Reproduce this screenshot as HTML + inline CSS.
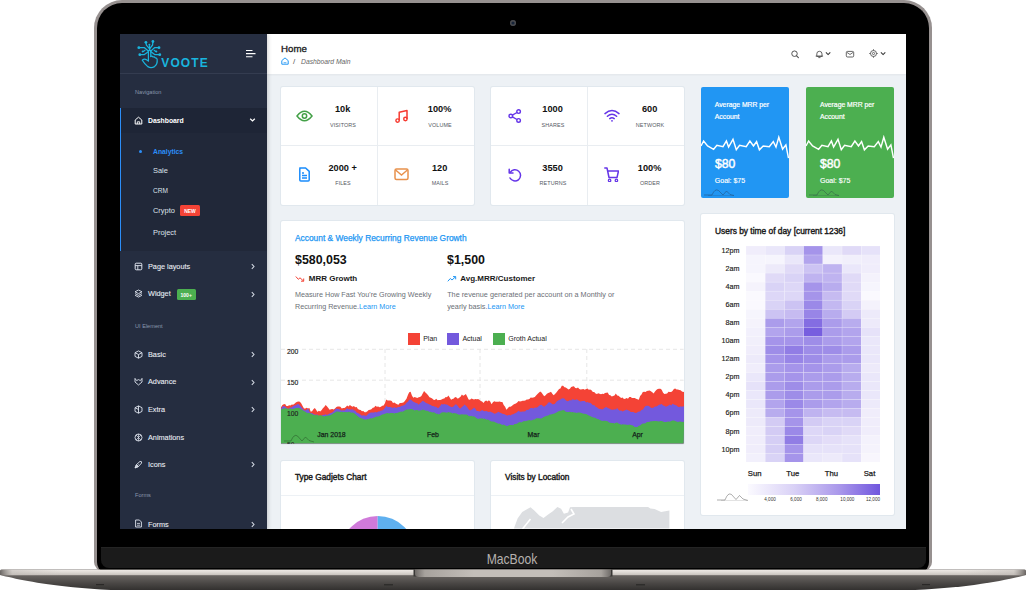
<!DOCTYPE html>
<html><head><meta charset="utf-8"><title>Voote Dashboard</title>
<style>
html,body{margin:0;padding:0;}
body{width:1026px;height:590px;background:#fff;position:relative;overflow:hidden;font-family:"Liberation Sans",sans-serif;}
.b{position:absolute;display:block;}
.t{position:absolute;white-space:nowrap;line-height:1.2;}
#lid{position:absolute;left:94px;top:0;width:838px;height:571px;box-sizing:border-box;background:#000;border:3px solid #979190;border-bottom:none;border-radius:28px 28px 9px 9px;}
#chin{position:absolute;left:100.6px;top:547px;width:825.2px;height:20.9px;background:#1b1b1b;border-radius:0 0 8px 8px;box-shadow:inset 0 1px 0 #242424;}
#cam{position:absolute;left:509.9px;top:20.4px;width:6px;height:6px;border-radius:50%;background:#16243a;box-shadow:inset 0 0 0 1.4px #4b4b4d;}
#screen{position:absolute;left:120px;top:34px;width:786px;height:495.3px;overflow:hidden;background:#edf1f5;}
#mb{position:absolute;left:-1.1px;width:1026px;top:550.8px;text-align:center;font-size:13.9px;color:#b5b1ae;line-height:16px;transform:scaleX(.876);transform-origin:513px 50%;}
</style></head><body>
<div id="lid"></div>
<div id="chin"></div>
<div id="cam"></div>
<div id="mb">MacBook</div>
<svg class="b" style="left:0;top:566px" width="1026" height="24" viewBox="0 0 1026 24">
<defs>
<linearGradient id="bg" x1="0" y1="0" x2="0" y2="1"><stop offset="0" stop-color="#6b6764"/><stop offset=".3" stop-color="#686461"/><stop offset=".65" stop-color="#4a4745"/><stop offset="1" stop-color="#2f2d2c"/></linearGradient>
<linearGradient id="lg" x1="0" y1="0" x2="0" y2="1"><stop offset="0" stop-color="#efebe7"/><stop offset=".55" stop-color="#dbd6d1"/><stop offset="1" stop-color="#c6c0bb"/></linearGradient>
<linearGradient id="tg" x1="0" y1="0" x2="1" y2="0"><stop offset="0" stop-color="#55514e" stop-opacity=".85"/><stop offset=".012" stop-color="#bdb8b3" stop-opacity=".5"/><stop offset=".06" stop-color="#bdb8b3" stop-opacity="0"/><stop offset=".94" stop-color="#bdb8b3" stop-opacity="0"/><stop offset=".988" stop-color="#bdb8b3" stop-opacity=".5"/><stop offset="1" stop-color="#55514e" stop-opacity=".85"/></linearGradient>
<linearGradient id="ng" x1="0" y1="0" x2="1" y2="0"><stop offset="0" stop-color="#6f6b68"/><stop offset=".05" stop-color="#a7a29d"/><stop offset=".3" stop-color="#c3beb9"/><stop offset=".7" stop-color="#c3beb9"/><stop offset=".95" stop-color="#a7a29d"/><stop offset="1" stop-color="#6f6b68"/></linearGradient>
<clipPath id="bc"><path d="M1.500 3.500 H1024.500 Q1026 3.500 1026 5 V9 C1012 12.500 990 17.500 953 21.300 C930 23.600 900 25 876 25 H150 C126 25 96 23.600 73 21.300 C36 17.500 14 12.500 0 9 V5 Q0 3.500 1.500 3.500 Z"/></clipPath>
</defs>
<g clip-path="url(#bc)">
<rect x="0" y="3" width="1026" height="22" fill="url(#bg)"/>
<rect x="0" y="3.600" width="1026" height="5.600" fill="url(#lg)"/>
<rect x="0" y="3.600" width="1026" height="5.600" fill="url(#tg)"/>
<rect x="413.500" y="3" width="199" height="7.500" fill="#3a3836"/>
<path d="M415 3 H611 V8 Q611 11 607 11 H419 Q415 11 415 8 Z" fill="url(#ng)"/>
<rect x="96" y="18" width="8" height="1.200" fill="#2a2827"/><rect x="922" y="18" width="8" height="1.200" fill="#2a2827"/>
<rect x="384" y="18.200" width="9" height="1.200" fill="#2a2827"/><rect x="636" y="18.200" width="9" height="1.200" fill="#2a2827"/>
</g>
</svg>
<div id="screen">
<div class="b" style="left:0.0px;top:0.0px;width:786.0px;height:496.0px;background:#edf1f5;"></div>
<div class="b" style="left:147.0px;top:0.0px;width:639.0px;height:39.5px;background:#fff;box-shadow:0 1px 2px rgba(0,0,0,.05);"></div>
<div class="t" style="left:161.0px;top:14.5px;font-size:9.7px;color:#1a1a1a;font-weight:400;transform:translate(0,-50%);transform-origin:left center;-webkit-text-stroke:0.32px #1a1a1a;">Home</div>
<svg class="b" style="left:161.0px;top:23.0px;" width="8" height="8" viewBox="0 0 8 8"><path d="M0.8 3.6 L4 0.9 L7.2 3.6 V7.2 H0.8 Z" fill="none" stroke="#2196f3" stroke-width="1" stroke-linejoin="round"/><path d="M2.6 5.4 Q4 6.4 5.4 5.4" fill="none" stroke="#2196f3" stroke-width=".8"/></svg>
<div class="t" style="left:173.0px;top:27.6px;font-size:8px;color:#555;font-weight:400;transform:translate(0,-50%);transform-origin:left center;">/</div>
<div class="t" style="left:180.5px;top:27.9px;font-size:7px;color:#666;font-weight:400;transform:translate(0,-50%) scaleX(0.965);transform-origin:left center;font-style:italic;">Dashboard Main</div>
<svg class="b" style="left:670.0px;top:14.5px;" width="11" height="11" viewBox="0 0 11 11"><circle cx="4.5" cy="4.7" r="2.75" fill="none" stroke="#4a4a4a" stroke-width=".95"/><path d="M6.600 6.800 L8.400 8.600" stroke="#4a4a4a" stroke-width="1.05" stroke-linecap="round"/></svg>
<svg class="b" style="left:693.5px;top:14.5px;" width="11" height="11" viewBox="0 0 11 11"><path d="M2.800 7 V4.900 A2.600 2.600 0 0 1 8 4.900 V7 Z M2.100 7.100 H8.700 M4.700 8.600 H6.100" fill="none" stroke="#4a4a4a" stroke-width=".85" stroke-linecap="round" stroke-linejoin="round"/></svg>
<svg class="b" style="left:705.0px;top:17.0px;" width="7" height="6" viewBox="0 0 7 6"><path d="M.9 1.300 L3.100 3.500 L5.300 1.300" fill="none" stroke="#333" stroke-width="1.05"/></svg>
<svg class="b" style="left:725.0px;top:15.5px;" width="10" height="9" viewBox="0 0 10 9"><rect x="1.300" y="1.400" width="7.400" height="5.600" rx="1.200" fill="none" stroke="#4a4a4a" stroke-width=".85"/><path d="M1.800 2.300 L5 4.500 L8.200 2.300" fill="none" stroke="#4a4a4a" stroke-width=".8"/></svg>
<svg class="b" style="left:747.5px;top:14.2px;" width="11" height="11" viewBox="0 0 11 11"><circle cx="5.500" cy="5.500" r="3" fill="none" stroke="#4a4a4a" stroke-width=".85"/><circle cx="5.500" cy="5.500" r="1.100" fill="none" stroke="#4a4a4a" stroke-width=".8"/><path d="M5.500 1.300V2.400 M5.500 8.600V9.700 M1.300 5.500H2.400 M8.600 5.500H9.700" stroke="#4a4a4a" stroke-width=".9"/></svg>
<svg class="b" style="left:759.5px;top:17.0px;" width="7" height="6" viewBox="0 0 7 6"><path d="M.9 1.300 L3.100 3.500 L5.300 1.300" fill="none" stroke="#333" stroke-width="1.050"/></svg>
<div class="b" style="left:0.0px;top:0.0px;width:147.0px;height:496.0px;background:#252d40;box-shadow:1px 0 4px rgba(0,0,0,.18);"></div>
<div class="b" style="left:0.0px;top:0.0px;width:147.0px;height:39.0px;background:#262e41;border-bottom:1px solid #343c50;"></div>
<div class="b" style="left:0.0px;top:74.0px;width:147.0px;height:142.5px;background:#212839;border-left:1px solid #2c8ef8;box-sizing:border-box;"></div>
<div class="b" style="left:0.0px;top:74.0px;width:147.0px;height:24.5px;background:#1e2536;border-left:1px solid #2c8ef8;box-sizing:border-box;"></div>
<svg class="b" style="left:14.0px;top:2.0px;" width="30" height="34" viewBox="0 0 30 34"><g fill="none" stroke="#19b5de" stroke-width="1.25" stroke-linecap="round" stroke-linejoin="round">
<path d="M15.600 14 V12.800 L12.400 9.200 L12 7"/>
<path d="M15.600 12.800 L18.600 9 L18.800 6.200"/>
<path d="M15.400 10 L15.600 12.800"/>
<path d="M5.500 11.700 H10.500 L14.600 15.300"/>
<path d="M24.300 11.700 H20.500 L16.700 15.100"/>
<path d="M6.500 18.700 H10 L14.300 15.800"/>
<path d="M25 18.700 H21 L17 15.800"/>
<path d="M9.300 15.400 L11 14.300 M21.700 15.400 L20.200 14.300"/>
<path d="M14.400 24.800 V15.200 Q14.400 14 15.600 14 Q16.800 14 16.800 15.200 V20.600"/>
<path d="M16.800 20.400 Q18.200 19.800 19 21 Q20.500 20.600 21.200 21.800 Q22.700 21.600 23.100 23.200 Q23.800 28.200 20.500 30.600 Q17 32.600 13.800 30.600 Q10.200 27.500 8.300 24.300 Q10.200 22.300 12.500 23.800 L14.400 25"/>
</g>
<g fill="#19b5de"><circle cx="11.900" cy="6.300" r="1.4"/><circle cx="18.900" cy="5.500" r="1.4"/><circle cx="15.400" cy="8.700" r="1"/><circle cx="4.800" cy="11.700" r="1.4"/><circle cx="25" cy="11.700" r="1.4"/><circle cx="5.800" cy="18.700" r="1.4"/><circle cx="25.800" cy="18.700" r="1.4"/><circle cx="8.700" cy="15.500" r="1"/><circle cx="22.300" cy="15.500" r="1"/></g></svg>
<div class="t" style="left:41.3px;top:28.7px;font-size:12px;color:#19b5de;font-weight:700;transform:translate(0,-50%);transform-origin:left center;letter-spacing:1.1px;">VOOTE</div>
<svg class="b" style="left:125.0px;top:15.0px;" width="12" height="10" viewBox="0 0 12 10"><path d="M1 1.5 H7.5 M1 4.6 H10.5 M1 7.7 H7.5" stroke="#fff" stroke-width="1.1" fill="none"/></svg>
<div class="t" style="left:15.0px;top:58.0px;font-size:5.6px;color:#8a97ad;font-weight:400;transform:translate(0,-50%);transform-origin:left center;">Navigation</div>
<div class="t" style="left:15.0px;top:292.4px;font-size:5.6px;color:#8a97ad;font-weight:400;transform:translate(0,-50%);transform-origin:left center;">UI Element</div>
<div class="t" style="left:15.0px;top:461.0px;font-size:5.6px;color:#8a97ad;font-weight:400;transform:translate(0,-50%);transform-origin:left center;">Forms</div>
<svg class="b" style="left:13.7px;top:81.5px;" width="9" height="9" viewBox="0 0 9 9"><path d="M1.2 4 L4.5 1.2 L7.8 4 V8 H1.2 Z" fill="none" stroke="#fff" stroke-width="1" stroke-linejoin="round"/><path d="M3.3 8 V5.8 H5.7 V8" fill="none" stroke="#fff" stroke-width=".9"/></svg>
<div class="t" style="left:28.0px;top:86.7px;font-size:7.6px;color:#fff;font-weight:700;transform:translate(0,-50%) scaleX(0.9);transform-origin:left center;">Dashboard</div>
<svg class="b" style="left:128.5px;top:83.3px;" width="7" height="6" viewBox="0 0 7 6"><path d="M1.2 1.8 L3.5 4 L5.8 1.8" fill="none" stroke="#fff" stroke-width="1.25"/></svg>
<svg class="b" style="left:13.7px;top:227.9px;" width="9" height="9" viewBox="0 0 9 9"><rect x="1.2" y="1.2" width="6.6" height="6.6" rx="1" fill="none" stroke="#dfe4ee" stroke-width="1"/><path d="M1.2 3.6 H7.8 M3.8 3.6 V7.8" stroke="#dfe4ee" stroke-width=".9"/></svg>
<div class="t" style="left:28.0px;top:233.1px;font-size:7.6px;color:#e8ecf3;font-weight:400;transform:translate(0,-50%) scaleX(0.96);transform-origin:left center;-webkit-text-stroke:0.1px #e8ecf3;">Page layouts</div>
<svg class="b" style="left:129.5px;top:229.2px;" width="6" height="7" viewBox="0 0 6 7"><path d="M1.8 1.2 L4 3.5 L1.8 5.8" fill="none" stroke="#d5dbe5" stroke-width="1.05"/></svg>
<svg class="b" style="left:13.7px;top:255.2px;" width="9" height="9" viewBox="0 0 9 9"><path d="M4.5 1 L8 2.8 L4.5 4.6 L1 2.8 Z M1 4.6 L4.5 6.4 L8 4.6 M1 6.3 L4.5 8.1 L8 6.3" fill="none" stroke="#dfe4ee" stroke-width=".9" stroke-linejoin="round"/></svg>
<div class="t" style="left:28.0px;top:260.4px;font-size:7.6px;color:#e8ecf3;font-weight:400;transform:translate(0,-50%) scaleX(0.96);transform-origin:left center;-webkit-text-stroke:0.1px #e8ecf3;">Widget</div>
<svg class="b" style="left:129.5px;top:256.5px;" width="6" height="7" viewBox="0 0 6 7"><path d="M1.8 1.2 L4 3.5 L1.8 5.8" fill="none" stroke="#d5dbe5" stroke-width="1.05"/></svg>
<svg class="b" style="left:13.7px;top:315.8px;" width="9" height="9" viewBox="0 0 9 9"><path d="M4.5 .9 L8 2.7 V6.4 L4.5 8.2 L1 6.4 V2.7 Z M1 2.7 L4.5 4.5 L8 2.7 M4.5 4.5 V8.2" fill="none" stroke="#dfe4ee" stroke-width=".9" stroke-linejoin="round"/></svg>
<div class="t" style="left:28.0px;top:321.0px;font-size:7.6px;color:#e8ecf3;font-weight:400;transform:translate(0,-50%) scaleX(0.96);transform-origin:left center;-webkit-text-stroke:0.1px #e8ecf3;">Basic</div>
<svg class="b" style="left:129.5px;top:317.1px;" width="6" height="7" viewBox="0 0 6 7"><path d="M1.8 1.2 L4 3.5 L1.8 5.8" fill="none" stroke="#d5dbe5" stroke-width="1.05"/></svg>
<svg class="b" style="left:13.7px;top:343.2px;" width="9" height="9" viewBox="0 0 9 9"><path d="M1 1.4 L2.6 3.6 L4.5 2.6 L6.4 3.6 L8 1.4 V5 L4.5 8 L1 5 Z" fill="none" stroke="#dfe4ee" stroke-width=".9" stroke-linejoin="round"/></svg>
<div class="t" style="left:28.0px;top:348.4px;font-size:7.6px;color:#e8ecf3;font-weight:400;transform:translate(0,-50%) scaleX(0.96);transform-origin:left center;-webkit-text-stroke:0.1px #e8ecf3;">Advance</div>
<svg class="b" style="left:129.5px;top:344.5px;" width="6" height="7" viewBox="0 0 6 7"><path d="M1.8 1.2 L4 3.5 L1.8 5.8" fill="none" stroke="#d5dbe5" stroke-width="1.05"/></svg>
<svg class="b" style="left:13.7px;top:370.8px;" width="9" height="9" viewBox="0 0 9 9"><path d="M4.5 .9 L8 2.7 V6.4 L4.5 8.2 L1 6.4 V2.7 Z M4.5 .9 V8.2 M1 2.7 L4.5 4.5" fill="none" stroke="#dfe4ee" stroke-width=".9" stroke-linejoin="round"/></svg>
<div class="t" style="left:28.0px;top:376.0px;font-size:7.6px;color:#e8ecf3;font-weight:400;transform:translate(0,-50%) scaleX(0.96);transform-origin:left center;-webkit-text-stroke:0.1px #e8ecf3;">Extra</div>
<svg class="b" style="left:129.5px;top:372.1px;" width="6" height="7" viewBox="0 0 6 7"><path d="M1.8 1.2 L4 3.5 L1.8 5.8" fill="none" stroke="#d5dbe5" stroke-width="1.05"/></svg>
<svg class="b" style="left:13.7px;top:398.8px;" width="9" height="9" viewBox="0 0 9 9"><circle cx="4.5" cy="4.5" r="3.5" fill="none" stroke="#dfe4ee" stroke-width=".9"/><path d="M2 2 L7 7 M7 2 L2 7 M4.5 1 V8" stroke="#dfe4ee" stroke-width=".7"/></svg>
<div class="t" style="left:28.0px;top:404.0px;font-size:7.6px;color:#e8ecf3;font-weight:400;transform:translate(0,-50%) scaleX(0.96);transform-origin:left center;-webkit-text-stroke:0.1px #e8ecf3;">Animations</div>
<svg class="b" style="left:13.7px;top:425.9px;" width="9" height="9" viewBox="0 0 9 9"><path d="M1 8 L2 5 L6 1.4 Q8 1 7.6 3 L4 7 L1 8 M2 5 L4 7 M1 8 L4.5 4.5" fill="none" stroke="#dfe4ee" stroke-width=".9" stroke-linejoin="round"/></svg>
<div class="t" style="left:28.0px;top:431.1px;font-size:7.6px;color:#e8ecf3;font-weight:400;transform:translate(0,-50%) scaleX(0.96);transform-origin:left center;-webkit-text-stroke:0.1px #e8ecf3;">Icons</div>
<svg class="b" style="left:129.5px;top:427.2px;" width="6" height="7" viewBox="0 0 6 7"><path d="M1.8 1.2 L4 3.5 L1.8 5.8" fill="none" stroke="#d5dbe5" stroke-width="1.05"/></svg>
<svg class="b" style="left:13.7px;top:485.3px;" width="9" height="9" viewBox="0 0 9 9"><path d="M1.6 1 H5.4 L7.4 3 V8 H1.6 Z" fill="none" stroke="#dfe4ee" stroke-width=".9" stroke-linejoin="round"/><path d="M3 4.4 H6 M3 6.2 H6" stroke="#dfe4ee" stroke-width=".8"/></svg>
<div class="t" style="left:28.0px;top:490.5px;font-size:7.6px;color:#e8ecf3;font-weight:400;transform:translate(0,-50%) scaleX(0.96);transform-origin:left center;-webkit-text-stroke:0.1px #e8ecf3;">Forms</div>
<svg class="b" style="left:129.5px;top:486.6px;" width="6" height="7" viewBox="0 0 6 7"><path d="M1.8 1.2 L4 3.5 L1.8 5.8" fill="none" stroke="#d5dbe5" stroke-width="1.05"/></svg>
<div class="b" style="left:56.5px;top:255.0px;width:19.5px;height:11.0px;background:#4caf50;border-radius:1.5px;"></div>
<div class="t" style="left:66.2px;top:260.6px;font-size:5px;color:#fff;font-weight:700;transform:translate(-50%,-50%);transform-origin:center center;">100+</div>
<div class="b" style="left:60.0px;top:171.0px;width:20.0px;height:10.6px;background:#f44336;border-radius:1.5px;"></div>
<div class="t" style="left:70.0px;top:176.5px;font-size:5px;color:#fff;font-weight:700;transform:translate(-50%,-50%);transform-origin:center center;">NEW</div>
<div class="b" style="left:18.5px;top:116.0px;width:3.0px;height:3.0px;background:#2c8ef8;border-radius:50%;"></div>
<div class="t" style="left:32.5px;top:117.5px;font-size:7.6px;color:#2c8ef8;font-weight:700;transform:translate(0,-50%) scaleX(0.89);transform-origin:left center;">Analytics</div>
<div class="t" style="left:32.5px;top:137.4px;font-size:7.6px;color:#dde2ea;font-weight:400;transform:translate(0,-50%) scaleX(0.98);transform-origin:left center;">Sale</div>
<div class="t" style="left:32.5px;top:156.8px;font-size:7.6px;color:#dde2ea;font-weight:400;transform:translate(0,-50%) scaleX(0.86);transform-origin:left center;">CRM</div>
<div class="t" style="left:32.5px;top:176.9px;font-size:7.6px;color:#dde2ea;font-weight:400;transform:translate(0,-50%) scaleX(0.98);transform-origin:left center;">Crypto</div>
<div class="t" style="left:32.5px;top:199.0px;font-size:7.6px;color:#dde2ea;font-weight:400;transform:translate(0,-50%) scaleX(0.98);transform-origin:left center;">Project</div>
<div class="b" style="left:161.0px;top:52.8px;width:193.4px;height:118.2px;background:#fff;border-radius:2px;box-shadow:0 0 0 1px rgba(215,224,232,.55);"></div>
<div class="b" style="left:257.2px;top:52.8px;width:0.8px;height:118.2px;background:#e9edf1;"></div>
<div class="b" style="left:161.0px;top:111.2px;width:193.4px;height:0.8px;background:#e9edf1;"></div>
<svg class="b" style="left:176.3px;top:75.7px;" width="17" height="12" viewBox="0 0 17 12"><path d="M1 6 Q8.5 -3.5 16 6 Q8.5 15.500 1 6 Z" fill="none" stroke="#43a047" stroke-width="1.5"/><circle cx="8.5" cy="6" r="2.2" fill="none" stroke="#43a047" stroke-width="1.5"/></svg>
<div class="t" style="left:222.6px;top:75.8px;font-size:9.2px;color:#111;font-weight:700;transform:translate(-50%,-50%);transform-origin:center center;">10k</div>
<div class="t" style="left:222.6px;top:90.7px;font-size:5.7px;color:#54585f;font-weight:400;transform:translate(-50%,-50%) scaleX(0.95);transform-origin:center center;letter-spacing:0.1px;">VISITORS</div>
<svg class="b" style="left:274.6px;top:74.7px;" width="14" height="14" viewBox="0 0 14 14"><path d="M4.2 11.600 V3.2 L12 1.6 V10" fill="none" stroke="#f63a30" stroke-width="1.5" stroke-linejoin="round"/><circle cx="2.6" cy="11.6" r="1.7" fill="none" stroke="#f63a30" stroke-width="1.4"/><circle cx="10.4" cy="10" r="1.7" fill="none" stroke="#f63a30" stroke-width="1.4"/></svg>
<div class="t" style="left:319.6px;top:75.8px;font-size:9.2px;color:#111;font-weight:700;transform:translate(-50%,-50%);transform-origin:center center;">100%</div>
<div class="t" style="left:319.6px;top:90.7px;font-size:5.7px;color:#54585f;font-weight:400;transform:translate(-50%,-50%) scaleX(0.95);transform-origin:center center;letter-spacing:0.1px;">VOLUME</div>
<svg class="b" style="left:178.3px;top:133.2px;" width="13" height="15" viewBox="0 0 13 15"><path d="M1.8 1 H7.6 L11.2 4.4 V13 Q11.2 14 10.2 14 H2.8 Q1.8 14 1.8 13 V2 Q1.8 1 2.8 1 Z" fill="none" stroke="#1a8cfb" stroke-width="1.5" stroke-linejoin="round"/><path d="M4 6 H6 M4 8.5 H9 M4 11 H9" stroke="#1a8cfb" stroke-width="1.4"/></svg>
<div class="t" style="left:222.6px;top:134.6px;font-size:9.2px;color:#111;font-weight:700;transform:translate(-50%,-50%);transform-origin:center center;">2000 +</div>
<div class="t" style="left:222.6px;top:149.3px;font-size:5.7px;color:#54585f;font-weight:400;transform:translate(-50%,-50%) scaleX(0.95);transform-origin:center center;letter-spacing:0.1px;">FILES</div>
<svg class="b" style="left:274.1px;top:134.4px;" width="15" height="12.5" viewBox="0 0 15 12.5"><rect x="1" y="1" width="13" height="10.5" rx="1.5" fill="none" stroke="#e8914c" stroke-width="1.5"/><path d="M1.6 2 L7.5 7 L13.4 2" fill="none" stroke="#e8914c" stroke-width="1.4"/></svg>
<div class="t" style="left:319.6px;top:134.6px;font-size:9.2px;color:#111;font-weight:700;transform:translate(-50%,-50%);transform-origin:center center;">120</div>
<div class="t" style="left:319.6px;top:149.3px;font-size:5.7px;color:#54585f;font-weight:400;transform:translate(-50%,-50%) scaleX(0.95);transform-origin:center center;letter-spacing:0.1px;">MAILS</div>
<div class="b" style="left:371.0px;top:52.8px;width:193.4px;height:118.2px;background:#fff;border-radius:2px;box-shadow:0 0 0 1px rgba(215,224,232,.55);"></div>
<div class="b" style="left:467.2px;top:52.8px;width:0.8px;height:118.2px;background:#e9edf1;"></div>
<div class="b" style="left:371.0px;top:111.2px;width:193.4px;height:0.8px;background:#e9edf1;"></div>
<svg class="b" style="left:388.0px;top:74.7px;" width="13.5" height="14" viewBox="0 0 13.5 14"><circle cx="10.6" cy="2.6" r="1.8" fill="none" stroke="#6535e8" stroke-width="1.4"/><circle cx="2.8" cy="7" r="1.8" fill="none" stroke="#6535e8" stroke-width="1.4"/><circle cx="10.6" cy="11.4" r="1.8" fill="none" stroke="#6535e8" stroke-width="1.4"/><path d="M4.4 6.1 L9 3.5 M4.4 7.9 L9 10.5" stroke="#6535e8" stroke-width="1.4"/></svg>
<div class="t" style="left:432.6px;top:75.8px;font-size:9.2px;color:#111;font-weight:700;transform:translate(-50%,-50%);transform-origin:center center;">1000</div>
<div class="t" style="left:432.6px;top:90.7px;font-size:5.7px;color:#54585f;font-weight:400;transform:translate(-50%,-50%) scaleX(0.95);transform-origin:center center;letter-spacing:0.1px;">SHARES</div>
<svg class="b" style="left:483.6px;top:75.2px;" width="16" height="13" viewBox="0 0 16 13"><path d="M1 4.6 Q8 -1.600 15 4.6 M3.4 7.2 Q8 3.200 12.600 7.2 M5.8 9.600 Q8 7.800 10.200 9.600" fill="none" stroke="#6535e8" stroke-width="1.5" stroke-linecap="round"/><circle cx="8" cy="11.8" r=".9" fill="#6535e8"/></svg>
<div class="t" style="left:529.6px;top:75.8px;font-size:9.2px;color:#111;font-weight:700;transform:translate(-50%,-50%);transform-origin:center center;">600</div>
<div class="t" style="left:529.6px;top:90.7px;font-size:5.7px;color:#54585f;font-weight:400;transform:translate(-50%,-50%) scaleX(0.95);transform-origin:center center;letter-spacing:0.1px;">NETWORK</div>
<svg class="b" style="left:387.8px;top:133.7px;" width="14" height="14" viewBox="0 0 14 14"><path d="M2.2 4.400 A5.600 5.600 0 1 1 2 10" fill="none" stroke="#6535e8" stroke-width="1.5" stroke-linecap="round"/><path d="M1.2 1.2 V5 H5" fill="none" stroke="#6535e8" stroke-width="1.5" stroke-linejoin="round" stroke-linecap="round"/></svg>
<div class="t" style="left:432.6px;top:134.6px;font-size:9.2px;color:#111;font-weight:700;transform:translate(-50%,-50%);transform-origin:center center;">3550</div>
<div class="t" style="left:432.6px;top:149.3px;font-size:5.7px;color:#54585f;font-weight:400;transform:translate(-50%,-50%) scaleX(0.95);transform-origin:center center;letter-spacing:0.1px;">RETURNS</div>
<svg class="b" style="left:483.8px;top:132.9px;" width="15.5" height="15.5" viewBox="0 0 15.5 15.5"><path d="M.8 1 H3 L5 10.500 H13 L14.500 4 H3.700" fill="none" stroke="#6535e8" stroke-width="1.5" stroke-linejoin="round" stroke-linecap="round"/><circle cx="5.6" cy="13.4" r="1.2" fill="none" stroke="#6535e8" stroke-width="1.3"/><circle cx="12.4" cy="13.4" r="1.2" fill="none" stroke="#6535e8" stroke-width="1.3"/></svg>
<div class="t" style="left:529.6px;top:134.6px;font-size:9.2px;color:#111;font-weight:700;transform:translate(-50%,-50%);transform-origin:center center;">100%</div>
<div class="t" style="left:529.6px;top:149.3px;font-size:5.7px;color:#54585f;font-weight:400;transform:translate(-50%,-50%) scaleX(0.95);transform-origin:center center;letter-spacing:0.1px;">ORDER</div>
<div class="b" style="left:580.8px;top:53.0px;width:88.2px;height:110.5px;background:#2196f3;border-radius:2px;"></div>
<div class="t" style="left:594.8px;top:71.0px;font-size:6.8px;color:#fff;font-weight:400;transform:translate(0,-50%);transform-origin:left center;-webkit-text-stroke:0.2px #fff;">Average MRR per</div>
<div class="t" style="left:594.8px;top:82.7px;font-size:6.8px;color:#fff;font-weight:400;transform:translate(0,-50%);transform-origin:left center;-webkit-text-stroke:0.2px #fff;">Account</div>
<svg class="b" style="left:580.8px;top:100.7px;" width="88.2" height="26" viewBox="0 0 88.2 26"><path d="M0.0,11.0 L2.6,6.0 L6.6,11.0 L12.6,14.3 L15.9,10.4 L22.0,11.7 L25.4,6.0 L27.6,12.1 L32.0,4.4 L35.3,14.8 L38.6,10.4 L45.2,11.7 L48.9,6.0 L52.5,11.0 L55.6,6.6 L58.4,14.8 L62.2,11.0 L68.3,11.7 L72.3,6.6 L75.0,12.1 L77.8,2.2 L81.6,14.3 L84.9,9.9 L87.5,23.2" fill="none" stroke="#fff" stroke-width="1.45" stroke-linejoin="miter"/></svg>
<div class="t" style="left:594.8px;top:131.1px;font-size:12.6px;color:#fff;font-weight:400;transform:translate(0,-50%) scaleX(0.97);transform-origin:left center;-webkit-text-stroke:0.45px #fff;">$80</div>
<div class="t" style="left:594.8px;top:146.5px;font-size:7px;color:#fff;font-weight:400;transform:translate(0,-50%);transform-origin:left center;-webkit-text-stroke:0.15px #fff;">Goal: $75</div>
<svg class="b" style="left:583.8px;top:153.5px;" width="32" height="9" viewBox="0 0 32 9"><path d="M0 7 H8 Q11 0 14.500 2.500 L19 7 L22.500 3 L26 6.500 L30 7.500" fill="none" stroke="rgba(40,50,70,.55)" stroke-width=".7"/><path d="M4 7.500 H30" stroke="rgba(40,50,70,.35)" stroke-width=".5"/></svg>
<div class="b" style="left:686.0px;top:53.0px;width:88.2px;height:110.5px;background:#4caf50;border-radius:2px;"></div>
<div class="t" style="left:700.0px;top:71.0px;font-size:6.8px;color:#fff;font-weight:400;transform:translate(0,-50%);transform-origin:left center;-webkit-text-stroke:0.2px #fff;">Average MRR per</div>
<div class="t" style="left:700.0px;top:82.7px;font-size:6.8px;color:#fff;font-weight:400;transform:translate(0,-50%);transform-origin:left center;-webkit-text-stroke:0.2px #fff;">Account</div>
<svg class="b" style="left:686.0px;top:100.7px;" width="88.2" height="26" viewBox="0 0 88.2 26"><path d="M0.0,11.0 L2.6,6.0 L6.6,11.0 L12.6,14.3 L15.9,10.4 L22.0,11.7 L25.4,6.0 L27.6,12.1 L32.0,4.4 L35.3,14.8 L38.6,10.4 L45.2,11.7 L48.9,6.0 L52.5,11.0 L55.6,6.6 L58.4,14.8 L62.2,11.0 L68.3,11.7 L72.3,6.6 L75.0,12.1 L77.8,2.2 L81.6,14.3 L84.9,9.9 L87.5,23.2" fill="none" stroke="#fff" stroke-width="1.45" stroke-linejoin="miter"/></svg>
<div class="t" style="left:700.0px;top:131.1px;font-size:12.6px;color:#fff;font-weight:400;transform:translate(0,-50%) scaleX(0.97);transform-origin:left center;-webkit-text-stroke:0.45px #fff;">$80</div>
<div class="t" style="left:700.0px;top:146.5px;font-size:7px;color:#fff;font-weight:400;transform:translate(0,-50%);transform-origin:left center;-webkit-text-stroke:0.15px #fff;">Goal: $75</div>
<svg class="b" style="left:689.0px;top:153.5px;" width="32" height="9" viewBox="0 0 32 9"><path d="M0 7 H8 Q11 0 14.500 2.500 L19 7 L22.500 3 L26 6.500 L30 7.500" fill="none" stroke="rgba(40,50,70,.55)" stroke-width=".7"/><path d="M4 7.500 H30" stroke="rgba(40,50,70,.35)" stroke-width=".5"/></svg>
<div class="b" style="left:161.0px;top:187.0px;width:402.6px;height:222.5px;background:#fff;border-radius:2px;box-shadow:0 0 0 1px rgba(215,224,232,.55);"></div>
<div class="t" style="left:175.0px;top:203.8px;font-size:8.4px;color:#2196f3;font-weight:400;transform:translate(0,-50%);transform-origin:left center;-webkit-text-stroke:0.25px #2196f3;">Account &amp; Weekly Recurring Revenue Growth</div>
<div class="t" style="left:175.0px;top:227.4px;font-size:12.6px;color:#111;font-weight:700;transform:translate(0,-50%) scaleX(0.985);transform-origin:left center;">$580,053</div>
<div class="t" style="left:327.2px;top:227.4px;font-size:12.6px;color:#111;font-weight:700;transform:translate(0,-50%) scaleX(0.985);transform-origin:left center;">$1,500</div>
<svg class="b" style="left:175.0px;top:240.5px;" width="10" height="8" viewBox="0 0 10 8"><path d="M.8 1.500 L3.300 4.300 L5 2.800 L8.500 6 M6 6.200 H8.700 V3.500" fill="none" stroke="#f44336" stroke-width="1" stroke-linejoin="round"/></svg>
<div class="t" style="left:188.8px;top:244.5px;font-size:8px;color:#1a1a1a;font-weight:700;transform:translate(0,-50%);transform-origin:left center;">MRR Growth</div>
<svg class="b" style="left:327.2px;top:240.5px;" width="10" height="8" viewBox="0 0 10 8"><path d="M.8 6.300 L3.300 3.500 L5 5 L8.500 1.800 M6 1.600 H8.700 V4.300" fill="none" stroke="#2196f3" stroke-width="1" stroke-linejoin="round"/></svg>
<div class="t" style="left:340.3px;top:244.5px;font-size:8px;color:#1a1a1a;font-weight:700;transform:translate(0,-50%);transform-origin:left center;">Avg.MRR/Customer</div>
<div class="t" style="left:175.0px;top:260.8px;font-size:7.2px;color:#6b6f76;font-weight:400;transform:translate(0,-50%);transform-origin:left center;">Measure How Fast You're Growing Weekly</div>
<div class="t" style="left:175.0px;top:272.6px;font-size:7.2px;color:#6b6f76;font-weight:400;transform:translate(0,-50%);transform-origin:left center;">Recurring Revenue.<span style="color:#2196f3">Learn More</span></div>
<div class="t" style="left:327.2px;top:260.8px;font-size:7.25px;color:#6b6f76;font-weight:400;transform:translate(0,-50%);transform-origin:left center;">The revenue generated per account on a Monthly or</div>
<div class="t" style="left:327.2px;top:272.6px;font-size:7.25px;color:#6b6f76;font-weight:400;transform:translate(0,-50%);transform-origin:left center;">yearly basis.<span style="color:#2196f3">Learn More</span></div>
<div class="b" style="left:288.0px;top:298.6px;width:12.0px;height:12.0px;background:#f44336;"></div>
<div class="t" style="left:303.2px;top:304.7px;font-size:7px;color:#222;font-weight:400;transform:translate(0,-50%);transform-origin:left center;">Plan</div>
<div class="b" style="left:327.2px;top:298.6px;width:12.0px;height:12.0px;background:#7359dd;"></div>
<div class="t" style="left:342.4px;top:304.7px;font-size:7px;color:#222;font-weight:400;transform:translate(0,-50%);transform-origin:left center;">Actual</div>
<div class="b" style="left:373.0px;top:298.6px;width:12.0px;height:12.0px;background:#4caf50;"></div>
<div class="t" style="left:388.2px;top:304.7px;font-size:7px;color:#222;font-weight:400;transform:translate(0,-50%);transform-origin:left center;">Groth Actual</div>
<svg class="b" style="left:161.0px;top:311.0px;" width="402.6" height="98.5" viewBox="0 0 402.6 98.5"><path d="M0 4.3 H402.6" stroke="#e6e6e6" stroke-width="1" stroke-dasharray="4 3"/><path d="M0 35.2 H402.6" stroke="#e6e6e6" stroke-width="1" stroke-dasharray="4 3"/><path d="M0 67.0 H402.6" stroke="#e6e6e6" stroke-width="1" stroke-dasharray="4 3"/><path d="M104.0 4 V98.5" stroke="#e6e6e6" stroke-width="1" stroke-dasharray="4 3"/><path d="M199.0 4 V98.5" stroke="#e6e6e6" stroke-width="1" stroke-dasharray="4 3"/><path d="M305.8 4 V98.5" stroke="#e6e6e6" stroke-width="1" stroke-dasharray="4 3"/><path d="M0,98.5 L0.0,62.2 L1.4,60.1 L2.7,59.2 L4.1,58.9 L5.4,61.1 L6.8,61.0 L8.1,60.2 L9.4,60.6 L10.8,59.4 L12.1,59.8 L13.5,58.8 L14.8,57.6 L16.2,56.7 L17.6,56.4 L18.9,56.8 L20.3,58.5 L21.6,61.0 L23.0,63.4 L24.3,63.4 L25.7,62.8 L27.0,63.5 L28.4,63.0 L29.7,66.7 L31.1,66.3 L32.4,64.2 L33.8,63.1 L35.1,64.8 L36.5,67.0 L37.8,65.8 L39.2,66.6 L40.5,65.3 L41.9,63.2 L43.2,61.9 L44.6,60.0 L45.9,61.3 L47.3,62.9 L48.6,64.8 L50.0,64.3 L51.3,64.1 L52.7,64.6 L54.0,63.5 L55.4,61.9 L56.7,61.4 L58.1,61.6 L59.4,61.8 L60.8,63.4 L62.1,63.0 L63.5,62.9 L64.8,62.0 L66.2,60.5 L67.5,61.5 L68.9,60.1 L70.2,60.9 L71.6,61.7 L72.9,60.9 L74.2,62.2 L75.6,62.0 L76.9,63.9 L78.3,64.7 L79.6,65.0 L81.0,66.3 L82.3,65.9 L83.7,67.3 L85.0,67.3 L86.4,66.2 L87.7,65.0 L89.1,64.8 L90.4,64.3 L91.8,62.8 L93.1,62.5 L94.5,60.7 L95.8,61.8 L97.2,61.6 L98.5,62.2 L99.9,61.8 L101.2,60.8 L102.6,60.4 L103.9,58.2 L105.3,54.4 L106.6,55.5 L108.0,55.4 L109.3,55.6 L110.7,56.0 L112.0,58.0 L113.4,57.5 L114.7,58.4 L116.1,59.3 L117.4,59.8 L118.8,57.9 L120.1,58.1 L121.5,57.8 L122.8,57.2 L124.2,55.4 L125.5,53.8 L126.9,50.1 L128.2,47.2 L129.6,46.8 L130.9,50.5 L132.3,52.7 L133.6,51.9 L135.0,52.6 L136.3,52.9 L137.7,52.2 L139.0,52.0 L140.4,50.9 L141.7,48.5 L143.1,46.1 L144.4,47.6 L145.8,48.8 L147.1,50.3 L148.5,52.2 L149.8,52.8 L151.2,53.5 L152.5,54.8 L153.9,54.9 L155.2,53.8 L156.6,55.3 L157.9,55.0 L159.3,55.0 L160.6,54.6 L162.0,53.7 L163.3,53.4 L164.7,52.1 L166.0,52.3 L167.4,50.6 L168.7,52.6 L170.1,54.8 L171.4,54.1 L172.8,53.4 L174.1,51.9 L175.5,52.6 L176.8,53.8 L178.2,52.8 L179.5,51.7 L180.9,49.6 L182.2,50.8 L183.6,50.1 L184.9,49.1 L186.3,51.8 L187.6,54.6 L189.0,54.7 L190.3,53.5 L191.7,54.0 L193.0,54.4 L194.4,53.9 L195.7,54.3 L197.1,54.0 L198.4,54.8 L199.8,56.0 L201.1,56.6 L202.5,58.0 L203.8,56.2 L205.2,55.4 L206.5,56.6 L207.9,55.2 L209.2,56.5 L210.6,59.2 L211.9,57.2 L213.3,56.3 L214.6,56.7 L216.0,56.8 L217.3,56.8 L218.7,56.4 L220.0,56.9 L221.4,56.9 L222.7,59.9 L224.1,61.8 L225.4,64.7 L226.8,63.2 L228.1,61.8 L229.5,61.8 L230.8,61.0 L232.2,59.8 L233.5,59.1 L234.9,58.4 L236.2,57.6 L237.6,56.1 L238.9,56.6 L240.3,56.3 L241.6,55.7 L243.0,55.7 L244.3,55.5 L245.7,54.6 L247.0,54.4 L248.4,54.0 L249.7,52.4 L251.1,52.8 L252.4,52.4 L253.8,51.9 L255.1,50.4 L256.5,48.9 L257.8,47.7 L259.2,46.4 L260.5,47.4 L261.9,49.6 L263.2,51.2 L264.6,50.2 L265.9,48.7 L267.3,48.1 L268.6,47.5 L270.0,46.8 L271.3,48.8 L272.7,50.3 L274.0,49.0 L275.4,47.6 L276.7,45.8 L278.1,43.9 L279.4,43.4 L280.8,40.8 L282.1,40.8 L283.5,42.3 L284.8,42.4 L286.2,43.6 L287.5,44.6 L288.9,43.7 L290.2,42.1 L291.6,41.5 L292.9,41.3 L294.3,43.0 L295.6,43.2 L297.0,42.4 L298.3,43.9 L299.7,44.5 L301.1,44.3 L302.4,44.0 L303.8,44.7 L305.1,43.9 L306.5,43.4 L307.8,44.8 L309.2,44.6 L310.5,45.3 L311.9,46.9 L313.2,46.9 L314.6,48.5 L315.9,48.9 L317.3,48.2 L318.6,48.7 L320.0,49.3 L321.3,48.8 L322.7,49.0 L324.0,48.0 L325.4,47.8 L326.7,47.6 L328.1,50.1 L329.4,50.2 L330.8,51.4 L332.1,50.9 L333.5,50.5 L334.8,48.6 L336.2,50.5 L337.5,50.8 L338.9,51.9 L340.2,52.9 L341.6,52.6 L342.9,54.1 L344.3,53.8 L345.6,52.9 L347.0,53.8 L348.3,52.0 L349.7,52.0 L351.0,52.9 L352.4,53.0 L353.7,53.1 L355.1,53.8 L356.4,54.3 L357.8,54.7 L359.1,51.1 L360.5,49.6 L361.8,47.1 L363.2,46.7 L364.5,47.1 L365.9,46.1 L367.2,45.7 L368.6,45.5 L369.9,46.3 L371.3,47.2 L372.6,48.5 L374.0,46.6 L375.3,44.9 L376.7,44.1 L378.0,43.7 L379.4,43.8 L380.7,44.7 L382.1,47.7 L383.4,49.0 L384.8,48.8 L386.1,48.5 L387.5,46.8 L388.8,46.9 L390.2,46.9 L391.5,46.0 L392.9,44.1 L394.2,43.6 L395.6,44.6 L396.9,44.4 L398.3,45.1 L399.6,45.2 L401.0,46.5 L402.3,47.0 L403.2,46.7 L402.6,98.5 Z" fill="#f44336"/><path d="M0,98.5 L0.0,64.0 L1.4,61.6 L2.7,61.1 L4.1,61.8 L5.4,62.5 L6.8,63.8 L8.1,63.6 L9.4,62.2 L10.8,62.6 L12.1,61.0 L13.5,60.4 L14.8,60.3 L16.2,59.3 L17.6,58.9 L18.9,60.6 L20.3,62.1 L21.6,63.5 L23.0,65.1 L24.3,65.5 L25.7,64.7 L27.0,63.5 L28.4,66.5 L29.7,68.3 L31.1,68.1 L32.4,68.9 L33.8,69.6 L35.1,69.8 L36.5,69.5 L37.8,71.0 L39.2,70.8 L40.5,71.0 L41.9,69.8 L43.2,69.9 L44.6,69.3 L45.9,70.1 L47.3,69.2 L48.6,68.6 L50.0,67.9 L51.3,67.5 L52.7,66.3 L54.0,64.6 L55.4,63.6 L56.7,63.9 L58.1,64.0 L59.4,65.3 L60.8,65.6 L62.1,65.3 L63.5,65.5 L64.8,64.4 L66.2,63.3 L67.5,64.2 L68.9,64.2 L70.2,64.8 L71.6,64.1 L72.9,65.6 L74.2,65.5 L75.6,67.6 L76.9,68.0 L78.3,68.8 L79.6,69.7 L81.0,70.7 L82.3,70.2 L83.7,70.5 L85.0,71.1 L86.4,69.7 L87.7,68.5 L89.1,67.8 L90.4,67.4 L91.8,67.4 L93.1,67.4 L94.5,67.1 L95.8,67.4 L97.2,66.4 L98.5,66.4 L99.9,65.6 L101.2,65.5 L102.6,64.4 L103.9,63.0 L105.3,60.8 L106.6,62.1 L108.0,62.1 L109.3,61.9 L110.7,62.4 L112.0,63.1 L113.4,61.9 L114.7,62.9 L116.1,62.4 L117.4,62.0 L118.8,62.1 L120.1,61.0 L121.5,60.7 L122.8,60.2 L124.2,59.6 L125.5,57.7 L126.9,56.8 L128.2,54.8 L129.6,54.5 L130.9,55.5 L132.3,56.8 L133.6,57.2 L135.0,57.9 L136.3,58.3 L137.7,59.8 L139.0,58.2 L140.4,57.0 L141.7,55.8 L143.1,56.4 L144.4,57.5 L145.8,58.3 L147.1,58.8 L148.5,59.5 L149.8,60.1 L151.2,60.9 L152.5,61.0 L153.9,61.7 L155.2,61.7 L156.6,63.0 L157.9,62.7 L159.3,60.7 L160.6,59.0 L162.0,59.4 L163.3,58.9 L164.7,59.4 L166.0,59.4 L167.4,60.4 L168.7,61.2 L170.1,61.9 L171.4,61.9 L172.8,61.3 L174.1,59.6 L175.5,59.6 L176.8,61.0 L178.2,63.1 L179.5,63.4 L180.9,62.0 L182.2,61.1 L183.6,59.6 L184.9,60.7 L186.3,62.3 L187.6,64.2 L189.0,65.6 L190.3,64.7 L191.7,63.9 L193.0,62.5 L194.4,63.7 L195.7,66.0 L197.1,65.9 L198.4,66.4 L199.8,66.1 L201.1,65.0 L202.5,66.0 L203.8,66.3 L205.2,66.1 L206.5,66.5 L207.9,66.9 L209.2,66.4 L210.6,67.3 L211.9,67.8 L213.3,68.7 L214.6,68.4 L216.0,67.7 L217.3,66.7 L218.7,67.5 L220.0,68.0 L221.4,68.8 L222.7,68.9 L224.1,69.4 L225.4,70.3 L226.8,70.4 L228.1,69.7 L229.5,70.4 L230.8,69.6 L232.2,69.2 L233.5,68.5 L234.9,67.9 L236.2,67.0 L237.6,65.7 L238.9,66.8 L240.3,66.8 L241.6,66.4 L243.0,66.5 L244.3,66.2 L245.7,64.8 L247.0,65.1 L248.4,63.9 L249.7,63.1 L251.1,63.1 L252.4,63.4 L253.8,62.4 L255.1,62.8 L256.5,62.3 L257.8,60.9 L259.2,59.9 L260.5,59.8 L261.9,61.0 L263.2,61.7 L264.6,60.4 L265.9,59.4 L267.3,57.5 L268.6,57.3 L270.0,58.0 L271.3,59.3 L272.7,59.2 L274.0,58.7 L275.4,56.8 L276.7,55.8 L278.1,55.0 L279.4,54.6 L280.8,53.6 L282.1,53.2 L283.5,53.8 L284.8,55.2 L286.2,56.2 L287.5,56.1 L288.9,55.1 L290.2,55.6 L291.6,54.0 L292.9,54.8 L294.3,55.1 L295.6,54.2 L297.0,55.1 L298.3,56.0 L299.7,56.5 L301.1,56.0 L302.4,55.9 L303.8,56.1 L305.1,57.4 L306.5,56.9 L307.8,57.8 L309.2,57.7 L310.5,58.7 L311.9,60.2 L313.2,60.0 L314.6,61.8 L315.9,62.3 L317.3,63.6 L318.6,64.0 L320.0,64.0 L321.3,64.6 L322.7,63.6 L324.0,62.5 L325.4,62.0 L326.7,62.9 L328.1,63.6 L329.4,64.2 L330.8,64.8 L332.1,64.7 L333.5,64.2 L334.8,64.4 L336.2,62.9 L337.5,64.8 L338.9,65.7 L340.2,65.5 L341.6,66.6 L342.9,65.7 L344.3,65.2 L345.6,64.5 L347.0,65.2 L348.3,65.7 L349.7,67.1 L351.0,67.0 L352.4,67.1 L353.7,67.7 L355.1,67.9 L356.4,67.2 L357.8,66.4 L359.1,66.5 L360.5,64.8 L361.8,64.7 L363.2,62.4 L364.5,61.1 L365.9,60.7 L367.2,60.7 L368.6,61.4 L369.9,62.7 L371.3,63.0 L372.6,62.4 L374.0,61.5 L375.3,61.4 L376.7,60.8 L378.0,59.7 L379.4,59.5 L380.7,59.1 L382.1,60.6 L383.4,60.8 L384.8,61.7 L386.1,61.3 L387.5,60.4 L388.8,59.6 L390.2,60.4 L391.5,58.8 L392.9,59.5 L394.2,60.0 L395.6,60.6 L396.9,61.8 L398.3,62.2 L399.6,61.2 L401.0,61.7 L402.3,61.2 L403.2,61.5 L402.6,98.5 Z" fill="#7359dd"/><path d="M0,98.5 L0.0,64.5 L1.4,64.0 L2.7,63.5 L4.1,63.2 L5.4,63.3 L6.8,64.0 L8.1,63.7 L9.4,63.6 L10.8,64.1 L12.1,64.1 L13.5,63.4 L14.8,63.0 L16.2,62.9 L17.6,62.7 L18.9,63.6 L20.3,64.2 L21.6,65.2 L23.0,65.9 L24.3,66.8 L25.7,67.8 L27.0,68.0 L28.4,68.0 L29.7,68.4 L31.1,69.2 L32.4,69.7 L33.8,70.2 L35.1,70.0 L36.5,70.2 L37.8,70.8 L39.2,70.0 L40.5,70.6 L41.9,71.0 L43.2,71.4 L44.6,71.0 L45.9,70.8 L47.3,70.5 L48.6,70.4 L50.0,69.8 L51.3,69.2 L52.7,68.1 L54.0,67.6 L55.4,66.6 L56.7,66.4 L58.1,66.8 L59.4,66.9 L60.8,66.8 L62.1,67.3 L63.5,66.9 L64.8,66.9 L66.2,67.2 L67.5,66.8 L68.9,67.1 L70.2,67.8 L71.6,67.6 L72.9,68.1 L74.2,69.0 L75.6,70.2 L76.9,71.3 L78.3,72.4 L79.6,72.9 L81.0,73.4 L82.3,74.1 L83.7,74.4 L85.0,74.8 L86.4,73.9 L87.7,74.2 L89.1,73.3 L90.4,73.6 L91.8,73.1 L93.1,72.5 L94.5,72.0 L95.8,71.6 L97.2,71.5 L98.5,71.1 L99.9,70.2 L101.2,69.5 L102.6,69.3 L103.9,68.7 L105.3,68.3 L106.6,68.1 L108.0,68.5 L109.3,67.9 L110.7,68.1 L112.0,68.1 L113.4,68.4 L114.7,68.0 L116.1,68.0 L117.4,67.5 L118.8,66.9 L120.1,66.5 L121.5,66.7 L122.8,66.0 L124.2,65.2 L125.5,64.5 L126.9,64.5 L128.2,64.2 L129.6,63.9 L130.9,64.1 L132.3,64.8 L133.6,65.4 L135.0,65.0 L136.3,65.1 L137.7,65.7 L139.0,65.4 L140.4,65.3 L141.7,64.4 L143.1,64.9 L144.4,65.4 L145.8,65.7 L147.1,66.0 L148.5,67.0 L149.8,66.7 L151.2,67.4 L152.5,67.2 L153.9,67.7 L155.2,68.7 L156.6,68.8 L157.9,69.5 L159.3,68.5 L160.6,67.5 L162.0,67.2 L163.3,67.3 L164.7,67.6 L166.0,67.8 L167.4,67.1 L168.7,67.5 L170.1,67.6 L171.4,68.5 L172.8,68.0 L174.1,68.2 L175.5,68.6 L176.8,69.2 L178.2,69.7 L179.5,69.6 L180.9,69.3 L182.2,69.5 L183.6,69.5 L184.9,69.4 L186.3,69.8 L187.6,70.9 L189.0,71.2 L190.3,70.7 L191.7,71.4 L193.0,71.3 L194.4,72.3 L195.7,73.3 L197.1,73.9 L198.4,73.5 L199.8,73.5 L201.1,73.3 L202.5,73.9 L203.8,73.6 L205.2,74.8 L206.5,74.6 L207.9,75.1 L209.2,76.0 L210.6,76.5 L211.9,76.6 L213.3,76.7 L214.6,77.5 L216.0,77.9 L217.3,78.8 L218.7,78.6 L220.0,79.2 L221.4,80.0 L222.7,79.6 L224.1,80.3 L225.4,81.0 L226.8,80.9 L228.1,80.1 L229.5,80.0 L230.8,79.9 L232.2,80.3 L233.5,79.1 L234.9,79.0 L236.2,78.5 L237.6,77.5 L238.9,77.1 L240.3,77.4 L241.6,76.8 L243.0,76.1 L244.3,76.3 L245.7,75.7 L247.0,75.4 L248.4,75.0 L249.7,75.4 L251.1,75.2 L252.4,74.5 L253.8,74.5 L255.1,73.3 L256.5,73.3 L257.8,73.3 L259.2,73.6 L260.5,73.4 L261.9,72.4 L263.2,71.7 L264.6,71.3 L265.9,70.8 L267.3,70.6 L268.6,69.5 L270.0,69.6 L271.3,69.1 L272.7,68.7 L274.0,68.2 L275.4,67.5 L276.7,66.7 L278.1,66.1 L279.4,65.7 L280.8,65.6 L282.1,64.9 L283.5,65.6 L284.8,66.8 L286.2,67.0 L287.5,66.9 L288.9,66.8 L290.2,67.2 L291.6,66.9 L292.9,67.5 L294.3,67.6 L295.6,67.9 L297.0,67.4 L298.3,67.4 L299.7,67.7 L301.1,68.3 L302.4,68.8 L303.8,68.8 L305.1,69.0 L306.5,69.7 L307.8,70.5 L309.2,71.0 L310.5,71.7 L311.9,72.3 L313.2,72.7 L314.6,72.7 L315.9,73.9 L317.3,74.1 L318.6,75.0 L320.0,75.5 L321.3,76.0 L322.7,75.7 L324.0,75.8 L325.4,76.0 L326.7,76.2 L328.1,77.4 L329.4,77.7 L330.8,78.0 L332.1,78.0 L333.5,78.4 L334.8,77.8 L336.2,77.5 L337.5,78.6 L338.9,79.0 L340.2,79.8 L341.6,79.2 L342.9,79.4 L344.3,79.5 L345.6,79.7 L347.0,80.0 L348.3,79.5 L349.7,80.0 L351.0,80.3 L352.4,80.8 L353.7,82.0 L355.1,82.1 L356.4,82.1 L357.8,80.8 L359.1,80.5 L360.5,79.3 L361.8,78.5 L363.2,78.5 L364.5,78.2 L365.9,77.0 L367.2,77.0 L368.6,76.8 L369.9,76.3 L371.3,76.3 L372.6,76.0 L374.0,76.0 L375.3,76.0 L376.7,76.3 L378.0,76.4 L379.4,76.0 L380.7,76.1 L382.1,76.6 L383.4,77.1 L384.8,76.9 L386.1,76.8 L387.5,76.4 L388.8,76.7 L390.2,76.1 L391.5,75.4 L392.9,75.5 L394.2,76.1 L395.6,76.6 L396.9,77.0 L398.3,76.5 L399.6,76.5 L401.0,77.0 L402.3,76.8 L403.2,76.9 L402.6,98.5 Z" fill="#4caf50"/><path d="M3 96 H10 Q13 88.500 16.500 91 L21 96 L24.500 92 L28 95.500 L33 97" fill="none" stroke="rgba(30,60,30,.6)" stroke-width=".7"/></svg>
<div class="t" style="left:167.0px;top:317.6px;font-size:6.8px;color:#222;font-weight:400;transform:translate(0,-50%);transform-origin:left center;-webkit-text-stroke:0.15px #222;">200</div>
<div class="t" style="left:167.0px;top:348.6px;font-size:6.8px;color:#222;font-weight:400;transform:translate(0,-50%);transform-origin:left center;-webkit-text-stroke:0.15px #222;">150</div>
<div class="t" style="left:167.0px;top:379.6px;font-size:6.8px;color:#222;font-weight:400;transform:translate(0,-50%);transform-origin:left center;-webkit-text-stroke:0.15px #222;">100</div>
<div class="t" style="left:167.0px;top:410.5px;font-size:6.8px;color:#222;font-weight:400;transform:translate(0,-50%);transform-origin:left center;clip-path:inset(0 0 55% 0);">50</div>
<div class="t" style="left:211.5px;top:400.8px;font-size:6.9px;color:#14241a;font-weight:400;transform:translate(-50%,-50%);transform-origin:center center;-webkit-text-stroke:0.25px #14241a;">Jan 2018</div>
<div class="t" style="left:313.0px;top:400.8px;font-size:6.9px;color:#14241a;font-weight:400;transform:translate(-50%,-50%);transform-origin:center center;-webkit-text-stroke:0.25px #14241a;">Feb</div>
<div class="t" style="left:413.5px;top:400.8px;font-size:6.9px;color:#14241a;font-weight:400;transform:translate(-50%,-50%);transform-origin:center center;-webkit-text-stroke:0.25px #14241a;">Mar</div>
<div class="t" style="left:517.5px;top:400.8px;font-size:6.9px;color:#14241a;font-weight:400;transform:translate(-50%,-50%);transform-origin:center center;-webkit-text-stroke:0.25px #14241a;">Apr</div>
<div class="b" style="left:161.0px;top:427.0px;width:193.3px;height:79.0px;background:#fff;border-radius:2px;box-shadow:0 0 0 1px rgba(215,224,232,.55);"></div>
<div class="b" style="left:371.3px;top:427.0px;width:192.3px;height:79.0px;background:#fff;border-radius:2px;box-shadow:0 0 0 1px rgba(215,224,232,.55);"></div>
<div class="b" style="left:161.0px;top:460.6px;width:193.3px;height:1.0px;background:#edf1f5;"></div>
<div class="b" style="left:371.3px;top:460.6px;width:192.3px;height:1.0px;background:#edf1f5;"></div>
<div class="t" style="left:175.0px;top:443.6px;font-size:8.3px;color:#1a1a1a;font-weight:400;transform:translate(0,-50%);transform-origin:left center;-webkit-text-stroke:0.4px #1a1a1a;">Type Gadjets Chart</div>
<div class="t" style="left:385.0px;top:443.6px;font-size:8.3px;color:#1a1a1a;font-weight:400;transform:translate(0,-50%);transform-origin:left center;-webkit-text-stroke:0.4px #1a1a1a;">Visits by Location</div>
<svg class="b" style="left:220.4px;top:481.8px;" width="76" height="20" viewBox="0 0 76 20"><path d="M37.700 37.700 L37.700 0 A37.700 37.700 0 0 0 0 37.700 Z" fill="#d07ada"/><path d="M37.700 37.700 L37.700 0 A37.700 37.700 0 0 1 75.400 37.700 Z" fill="#5fb0ef"/></svg>
<svg class="b" style="left:380.0px;top:464.0px;" width="190" height="34" viewBox="0 0 190 34"><path d="M13.9,30.6 L17.6,20.4 L22.2,13.9 L27.8,10.7 L30.6,9.3 L34.3,12.6 L39.3,17.6 L43.5,20.0 L47.8,16.7 L52.8,13.3 L57.4,8.9 L61.1,10.7 L63.9,15.7 L68.1,14.4 L70.0,9.3 L73.1,8.9 L148.1,8.9 L150.4,10.4 L154.6,11.1 L161.1,13.9 L169.4,12.6 L169.4,30.6 Z" fill="#dcdee1"/><path d="M22.500 31 L30.500 21 M62 25 L68 19 L74 16 L71 11" stroke="#fff" stroke-width="1.6" fill="none"/></svg>
<div class="b" style="left:580.8px;top:180.0px;width:193.4px;height:300.6px;background:#fff;border-radius:2px;box-shadow:0 0 0 1px rgba(215,224,232,.55);"></div>
<div class="t" style="left:595.0px;top:197.0px;font-size:8.5px;color:#1a1a1a;font-weight:400;transform:translate(0,-50%) scaleX(0.985);transform-origin:left center;-webkit-text-stroke:0.4px #1a1a1a;">Users by time of day [current 1236]</div>
<svg class="b" style="left:625.5px;top:211.7px;" width="134.5" height="216.8" viewBox="0 0 134.5 216.8"><rect x="0.00" y="0.00" width="19.21" height="9.03" fill="#f0edfb" stroke="rgba(255,255,255,.35)" stroke-width=".5"/><rect x="19.21" y="0.00" width="19.21" height="9.03" fill="#eae7fa" stroke="rgba(255,255,255,.35)" stroke-width=".5"/><rect x="38.43" y="0.00" width="19.21" height="9.03" fill="#d9d3f6" stroke="rgba(255,255,255,.35)" stroke-width=".5"/><rect x="57.64" y="0.00" width="19.21" height="9.03" fill="#a594ea" stroke="rgba(255,255,255,.35)" stroke-width=".5"/><rect x="76.86" y="0.00" width="19.21" height="9.03" fill="#eae7fa" stroke="rgba(255,255,255,.35)" stroke-width=".5"/><rect x="96.07" y="0.00" width="19.21" height="9.03" fill="#e0daf7" stroke="rgba(255,255,255,.35)" stroke-width=".5"/><rect x="115.29" y="0.00" width="19.21" height="9.03" fill="#e6e2f9" stroke="rgba(255,255,255,.35)" stroke-width=".5"/><rect x="0.00" y="9.03" width="19.21" height="9.03" fill="#f6f5fd" stroke="rgba(255,255,255,.35)" stroke-width=".5"/><rect x="19.21" y="9.03" width="19.21" height="9.03" fill="#f6f5fd" stroke="rgba(255,255,255,.35)" stroke-width=".5"/><rect x="38.43" y="9.03" width="19.21" height="9.03" fill="#eae7fa" stroke="rgba(255,255,255,.35)" stroke-width=".5"/><rect x="57.64" y="9.03" width="19.21" height="9.03" fill="#b2a4ed" stroke="rgba(255,255,255,.35)" stroke-width=".5"/><rect x="76.86" y="9.03" width="19.21" height="9.03" fill="#f4f2fc" stroke="rgba(255,255,255,.35)" stroke-width=".5"/><rect x="96.07" y="9.03" width="19.21" height="9.03" fill="#f1effb" stroke="rgba(255,255,255,.35)" stroke-width=".5"/><rect x="115.29" y="9.03" width="19.21" height="9.03" fill="#f0edfb" stroke="rgba(255,255,255,.35)" stroke-width=".5"/><rect x="0.00" y="18.07" width="19.21" height="9.03" fill="#f6f5fd" stroke="rgba(255,255,255,.35)" stroke-width=".5"/><rect x="19.21" y="18.07" width="19.21" height="9.03" fill="#edeafa" stroke="rgba(255,255,255,.35)" stroke-width=".5"/><rect x="38.43" y="18.07" width="19.21" height="9.03" fill="#e0daf7" stroke="rgba(255,255,255,.35)" stroke-width=".5"/><rect x="57.64" y="18.07" width="19.21" height="9.03" fill="#ccc3f3" stroke="rgba(255,255,255,.35)" stroke-width=".5"/><rect x="76.86" y="18.07" width="19.21" height="9.03" fill="#bfb3f0" stroke="rgba(255,255,255,.35)" stroke-width=".5"/><rect x="96.07" y="18.07" width="19.21" height="9.03" fill="#eae7fa" stroke="rgba(255,255,255,.35)" stroke-width=".5"/><rect x="115.29" y="18.07" width="19.21" height="9.03" fill="#f0edfb" stroke="rgba(255,255,255,.35)" stroke-width=".5"/><rect x="0.00" y="27.10" width="19.21" height="9.03" fill="#faf9fe" stroke="rgba(255,255,255,.35)" stroke-width=".5"/><rect x="19.21" y="27.10" width="19.21" height="9.03" fill="#e0daf7" stroke="rgba(255,255,255,.35)" stroke-width=".5"/><rect x="38.43" y="27.10" width="19.21" height="9.03" fill="#d9d3f6" stroke="rgba(255,255,255,.35)" stroke-width=".5"/><rect x="57.64" y="27.10" width="19.21" height="9.03" fill="#bfb3f0" stroke="rgba(255,255,255,.35)" stroke-width=".5"/><rect x="76.86" y="27.10" width="19.21" height="9.03" fill="#bfb3f0" stroke="rgba(255,255,255,.35)" stroke-width=".5"/><rect x="96.07" y="27.10" width="19.21" height="9.03" fill="#e0daf7" stroke="rgba(255,255,255,.35)" stroke-width=".5"/><rect x="115.29" y="27.10" width="19.21" height="9.03" fill="#f4f2fc" stroke="rgba(255,255,255,.35)" stroke-width=".5"/><rect x="0.00" y="36.13" width="19.21" height="9.03" fill="#f5f3fc" stroke="rgba(255,255,255,.35)" stroke-width=".5"/><rect x="19.21" y="36.13" width="19.21" height="9.03" fill="#d9d3f6" stroke="rgba(255,255,255,.35)" stroke-width=".5"/><rect x="38.43" y="36.13" width="19.21" height="9.03" fill="#ddd7f7" stroke="rgba(255,255,255,.35)" stroke-width=".5"/><rect x="57.64" y="36.13" width="19.21" height="9.03" fill="#a594ea" stroke="rgba(255,255,255,.35)" stroke-width=".5"/><rect x="76.86" y="36.13" width="19.21" height="9.03" fill="#b8acee" stroke="rgba(255,255,255,.35)" stroke-width=".5"/><rect x="96.07" y="36.13" width="19.21" height="9.03" fill="#e0daf7" stroke="rgba(255,255,255,.35)" stroke-width=".5"/><rect x="115.29" y="36.13" width="19.21" height="9.03" fill="#f6f5fd" stroke="rgba(255,255,255,.35)" stroke-width=".5"/><rect x="0.00" y="45.17" width="19.21" height="9.03" fill="#faf9fe" stroke="rgba(255,255,255,.35)" stroke-width=".5"/><rect x="19.21" y="45.17" width="19.21" height="9.03" fill="#ddd7f7" stroke="rgba(255,255,255,.35)" stroke-width=".5"/><rect x="38.43" y="45.17" width="19.21" height="9.03" fill="#ddd7f7" stroke="rgba(255,255,255,.35)" stroke-width=".5"/><rect x="57.64" y="45.17" width="19.21" height="9.03" fill="#a594ea" stroke="rgba(255,255,255,.35)" stroke-width=".5"/><rect x="76.86" y="45.17" width="19.21" height="9.03" fill="#c6bbf1" stroke="rgba(255,255,255,.35)" stroke-width=".5"/><rect x="96.07" y="45.17" width="19.21" height="9.03" fill="#e0daf7" stroke="rgba(255,255,255,.35)" stroke-width=".5"/><rect x="115.29" y="45.17" width="19.21" height="9.03" fill="#faf9fe" stroke="rgba(255,255,255,.35)" stroke-width=".5"/><rect x="0.00" y="54.20" width="19.21" height="9.03" fill="#faf9fe" stroke="rgba(255,255,255,.35)" stroke-width=".5"/><rect x="19.21" y="54.20" width="19.21" height="9.03" fill="#d9d3f6" stroke="rgba(255,255,255,.35)" stroke-width=".5"/><rect x="38.43" y="54.20" width="19.21" height="9.03" fill="#ccc3f3" stroke="rgba(255,255,255,.35)" stroke-width=".5"/><rect x="57.64" y="54.20" width="19.21" height="9.03" fill="#9b89e8" stroke="rgba(255,255,255,.35)" stroke-width=".5"/><rect x="76.86" y="54.20" width="19.21" height="9.03" fill="#c3b8f1" stroke="rgba(255,255,255,.35)" stroke-width=".5"/><rect x="96.07" y="54.20" width="19.21" height="9.03" fill="#d9d3f6" stroke="rgba(255,255,255,.35)" stroke-width=".5"/><rect x="115.29" y="54.20" width="19.21" height="9.03" fill="#f4f2fc" stroke="rgba(255,255,255,.35)" stroke-width=".5"/><rect x="0.00" y="63.23" width="19.21" height="9.03" fill="#f6f5fd" stroke="rgba(255,255,255,.35)" stroke-width=".5"/><rect x="19.21" y="63.23" width="19.21" height="9.03" fill="#ccc3f3" stroke="rgba(255,255,255,.35)" stroke-width=".5"/><rect x="38.43" y="63.23" width="19.21" height="9.03" fill="#c6bbf1" stroke="rgba(255,255,255,.35)" stroke-width=".5"/><rect x="57.64" y="63.23" width="19.21" height="9.03" fill="#9885e7" stroke="rgba(255,255,255,.35)" stroke-width=".5"/><rect x="76.86" y="63.23" width="19.21" height="9.03" fill="#b8acee" stroke="rgba(255,255,255,.35)" stroke-width=".5"/><rect x="96.07" y="63.23" width="19.21" height="9.03" fill="#d3cbf4" stroke="rgba(255,255,255,.35)" stroke-width=".5"/><rect x="115.29" y="63.23" width="19.21" height="9.03" fill="#edeafa" stroke="rgba(255,255,255,.35)" stroke-width=".5"/><rect x="0.00" y="72.27" width="19.21" height="9.03" fill="#f5f3fc" stroke="rgba(255,255,255,.35)" stroke-width=".5"/><rect x="19.21" y="72.27" width="19.21" height="9.03" fill="#ab9ceb" stroke="rgba(255,255,255,.35)" stroke-width=".5"/><rect x="38.43" y="72.27" width="19.21" height="9.03" fill="#b2a4ed" stroke="rgba(255,255,255,.35)" stroke-width=".5"/><rect x="57.64" y="72.27" width="19.21" height="9.03" fill="#846de2" stroke="rgba(255,255,255,.35)" stroke-width=".5"/><rect x="76.86" y="72.27" width="19.21" height="9.03" fill="#ab9ceb" stroke="rgba(255,255,255,.35)" stroke-width=".5"/><rect x="96.07" y="72.27" width="19.21" height="9.03" fill="#b8acee" stroke="rgba(255,255,255,.35)" stroke-width=".5"/><rect x="115.29" y="72.27" width="19.21" height="9.03" fill="#edeafa" stroke="rgba(255,255,255,.35)" stroke-width=".5"/><rect x="0.00" y="81.30" width="19.21" height="9.03" fill="#f2f0fc" stroke="rgba(255,255,255,.35)" stroke-width=".5"/><rect x="19.21" y="81.30" width="19.21" height="9.03" fill="#b2a4ed" stroke="rgba(255,255,255,.35)" stroke-width=".5"/><rect x="38.43" y="81.30" width="19.21" height="9.03" fill="#ab9ceb" stroke="rgba(255,255,255,.35)" stroke-width=".5"/><rect x="57.64" y="81.30" width="19.21" height="9.03" fill="#775edf" stroke="rgba(255,255,255,.35)" stroke-width=".5"/><rect x="76.86" y="81.30" width="19.21" height="9.03" fill="#ab9ceb" stroke="rgba(255,255,255,.35)" stroke-width=".5"/><rect x="96.07" y="81.30" width="19.21" height="9.03" fill="#b2a4ed" stroke="rgba(255,255,255,.35)" stroke-width=".5"/><rect x="115.29" y="81.30" width="19.21" height="9.03" fill="#e6e2f9" stroke="rgba(255,255,255,.35)" stroke-width=".5"/><rect x="0.00" y="90.33" width="19.21" height="9.03" fill="#f1effb" stroke="rgba(255,255,255,.35)" stroke-width=".5"/><rect x="19.21" y="90.33" width="19.21" height="9.03" fill="#a594ea" stroke="rgba(255,255,255,.35)" stroke-width=".5"/><rect x="38.43" y="90.33" width="19.21" height="9.03" fill="#a594ea" stroke="rgba(255,255,255,.35)" stroke-width=".5"/><rect x="57.64" y="90.33" width="19.21" height="9.03" fill="#9e8de8" stroke="rgba(255,255,255,.35)" stroke-width=".5"/><rect x="76.86" y="90.33" width="19.21" height="9.03" fill="#ab9ceb" stroke="rgba(255,255,255,.35)" stroke-width=".5"/><rect x="96.07" y="90.33" width="19.21" height="9.03" fill="#b2a4ed" stroke="rgba(255,255,255,.35)" stroke-width=".5"/><rect x="115.29" y="90.33" width="19.21" height="9.03" fill="#eae7fa" stroke="rgba(255,255,255,.35)" stroke-width=".5"/><rect x="0.00" y="99.37" width="19.21" height="9.03" fill="#f0edfb" stroke="rgba(255,255,255,.35)" stroke-width=".5"/><rect x="19.21" y="99.37" width="19.21" height="9.03" fill="#9e8de8" stroke="rgba(255,255,255,.35)" stroke-width=".5"/><rect x="38.43" y="99.37" width="19.21" height="9.03" fill="#917de5" stroke="rgba(255,255,255,.35)" stroke-width=".5"/><rect x="57.64" y="99.37" width="19.21" height="9.03" fill="#9e8de8" stroke="rgba(255,255,255,.35)" stroke-width=".5"/><rect x="76.86" y="99.37" width="19.21" height="9.03" fill="#9e8de8" stroke="rgba(255,255,255,.35)" stroke-width=".5"/><rect x="96.07" y="99.37" width="19.21" height="9.03" fill="#ab9ceb" stroke="rgba(255,255,255,.35)" stroke-width=".5"/><rect x="115.29" y="99.37" width="19.21" height="9.03" fill="#eae7fa" stroke="rgba(255,255,255,.35)" stroke-width=".5"/><rect x="0.00" y="108.40" width="19.21" height="9.03" fill="#edeafa" stroke="rgba(255,255,255,.35)" stroke-width=".5"/><rect x="19.21" y="108.40" width="19.21" height="9.03" fill="#a594ea" stroke="rgba(255,255,255,.35)" stroke-width=".5"/><rect x="38.43" y="108.40" width="19.21" height="9.03" fill="#9885e7" stroke="rgba(255,255,255,.35)" stroke-width=".5"/><rect x="57.64" y="108.40" width="19.21" height="9.03" fill="#9e8de8" stroke="rgba(255,255,255,.35)" stroke-width=".5"/><rect x="76.86" y="108.40" width="19.21" height="9.03" fill="#ab9ceb" stroke="rgba(255,255,255,.35)" stroke-width=".5"/><rect x="96.07" y="108.40" width="19.21" height="9.03" fill="#ab9ceb" stroke="rgba(255,255,255,.35)" stroke-width=".5"/><rect x="115.29" y="108.40" width="19.21" height="9.03" fill="#eae7fa" stroke="rgba(255,255,255,.35)" stroke-width=".5"/><rect x="0.00" y="117.43" width="19.21" height="9.03" fill="#f0edfb" stroke="rgba(255,255,255,.35)" stroke-width=".5"/><rect x="19.21" y="117.43" width="19.21" height="9.03" fill="#ab9ceb" stroke="rgba(255,255,255,.35)" stroke-width=".5"/><rect x="38.43" y="117.43" width="19.21" height="9.03" fill="#a594ea" stroke="rgba(255,255,255,.35)" stroke-width=".5"/><rect x="57.64" y="117.43" width="19.21" height="9.03" fill="#a594ea" stroke="rgba(255,255,255,.35)" stroke-width=".5"/><rect x="76.86" y="117.43" width="19.21" height="9.03" fill="#ab9ceb" stroke="rgba(255,255,255,.35)" stroke-width=".5"/><rect x="96.07" y="117.43" width="19.21" height="9.03" fill="#b8acee" stroke="rgba(255,255,255,.35)" stroke-width=".5"/><rect x="115.29" y="117.43" width="19.21" height="9.03" fill="#edeafa" stroke="rgba(255,255,255,.35)" stroke-width=".5"/><rect x="0.00" y="126.47" width="19.21" height="9.03" fill="#eae7fa" stroke="rgba(255,255,255,.35)" stroke-width=".5"/><rect x="19.21" y="126.47" width="19.21" height="9.03" fill="#ab9ceb" stroke="rgba(255,255,255,.35)" stroke-width=".5"/><rect x="38.43" y="126.47" width="19.21" height="9.03" fill="#a594ea" stroke="rgba(255,255,255,.35)" stroke-width=".5"/><rect x="57.64" y="126.47" width="19.21" height="9.03" fill="#ab9ceb" stroke="rgba(255,255,255,.35)" stroke-width=".5"/><rect x="76.86" y="126.47" width="19.21" height="9.03" fill="#ab9ceb" stroke="rgba(255,255,255,.35)" stroke-width=".5"/><rect x="96.07" y="126.47" width="19.21" height="9.03" fill="#b8acee" stroke="rgba(255,255,255,.35)" stroke-width=".5"/><rect x="115.29" y="126.47" width="19.21" height="9.03" fill="#eae7fa" stroke="rgba(255,255,255,.35)" stroke-width=".5"/><rect x="0.00" y="135.50" width="19.21" height="9.03" fill="#e6e2f9" stroke="rgba(255,255,255,.35)" stroke-width=".5"/><rect x="19.21" y="135.50" width="19.21" height="9.03" fill="#ab9ceb" stroke="rgba(255,255,255,.35)" stroke-width=".5"/><rect x="38.43" y="135.50" width="19.21" height="9.03" fill="#9e8de8" stroke="rgba(255,255,255,.35)" stroke-width=".5"/><rect x="57.64" y="135.50" width="19.21" height="9.03" fill="#ab9ceb" stroke="rgba(255,255,255,.35)" stroke-width=".5"/><rect x="76.86" y="135.50" width="19.21" height="9.03" fill="#ab9ceb" stroke="rgba(255,255,255,.35)" stroke-width=".5"/><rect x="96.07" y="135.50" width="19.21" height="9.03" fill="#b8acee" stroke="rgba(255,255,255,.35)" stroke-width=".5"/><rect x="115.29" y="135.50" width="19.21" height="9.03" fill="#eae7fa" stroke="rgba(255,255,255,.35)" stroke-width=".5"/><rect x="0.00" y="144.53" width="19.21" height="9.03" fill="#eae7fa" stroke="rgba(255,255,255,.35)" stroke-width=".5"/><rect x="19.21" y="144.53" width="19.21" height="9.03" fill="#ab9ceb" stroke="rgba(255,255,255,.35)" stroke-width=".5"/><rect x="38.43" y="144.53" width="19.21" height="9.03" fill="#9e8de8" stroke="rgba(255,255,255,.35)" stroke-width=".5"/><rect x="57.64" y="144.53" width="19.21" height="9.03" fill="#ab9ceb" stroke="rgba(255,255,255,.35)" stroke-width=".5"/><rect x="76.86" y="144.53" width="19.21" height="9.03" fill="#ab9ceb" stroke="rgba(255,255,255,.35)" stroke-width=".5"/><rect x="96.07" y="144.53" width="19.21" height="9.03" fill="#b8acee" stroke="rgba(255,255,255,.35)" stroke-width=".5"/><rect x="115.29" y="144.53" width="19.21" height="9.03" fill="#eae7fa" stroke="rgba(255,255,255,.35)" stroke-width=".5"/><rect x="0.00" y="153.57" width="19.21" height="9.03" fill="#eae7fa" stroke="rgba(255,255,255,.35)" stroke-width=".5"/><rect x="19.21" y="153.57" width="19.21" height="9.03" fill="#b2a4ed" stroke="rgba(255,255,255,.35)" stroke-width=".5"/><rect x="38.43" y="153.57" width="19.21" height="9.03" fill="#9b89e8" stroke="rgba(255,255,255,.35)" stroke-width=".5"/><rect x="57.64" y="153.57" width="19.21" height="9.03" fill="#ab9ceb" stroke="rgba(255,255,255,.35)" stroke-width=".5"/><rect x="76.86" y="153.57" width="19.21" height="9.03" fill="#b2a4ed" stroke="rgba(255,255,255,.35)" stroke-width=".5"/><rect x="96.07" y="153.57" width="19.21" height="9.03" fill="#b8acee" stroke="rgba(255,255,255,.35)" stroke-width=".5"/><rect x="115.29" y="153.57" width="19.21" height="9.03" fill="#edeafa" stroke="rgba(255,255,255,.35)" stroke-width=".5"/><rect x="0.00" y="162.60" width="19.21" height="9.03" fill="#edeafa" stroke="rgba(255,255,255,.35)" stroke-width=".5"/><rect x="19.21" y="162.60" width="19.21" height="9.03" fill="#b8acee" stroke="rgba(255,255,255,.35)" stroke-width=".5"/><rect x="38.43" y="162.60" width="19.21" height="9.03" fill="#a594ea" stroke="rgba(255,255,255,.35)" stroke-width=".5"/><rect x="57.64" y="162.60" width="19.21" height="9.03" fill="#bfb3f0" stroke="rgba(255,255,255,.35)" stroke-width=".5"/><rect x="76.86" y="162.60" width="19.21" height="9.03" fill="#c6bbf1" stroke="rgba(255,255,255,.35)" stroke-width=".5"/><rect x="96.07" y="162.60" width="19.21" height="9.03" fill="#c6bbf1" stroke="rgba(255,255,255,.35)" stroke-width=".5"/><rect x="115.29" y="162.60" width="19.21" height="9.03" fill="#f0edfb" stroke="rgba(255,255,255,.35)" stroke-width=".5"/><rect x="0.00" y="171.63" width="19.21" height="9.03" fill="#edeafa" stroke="rgba(255,255,255,.35)" stroke-width=".5"/><rect x="19.21" y="171.63" width="19.21" height="9.03" fill="#d3cbf4" stroke="rgba(255,255,255,.35)" stroke-width=".5"/><rect x="38.43" y="171.63" width="19.21" height="9.03" fill="#a594ea" stroke="rgba(255,255,255,.35)" stroke-width=".5"/><rect x="57.64" y="171.63" width="19.21" height="9.03" fill="#d3cbf4" stroke="rgba(255,255,255,.35)" stroke-width=".5"/><rect x="76.86" y="171.63" width="19.21" height="9.03" fill="#d9d3f6" stroke="rgba(255,255,255,.35)" stroke-width=".5"/><rect x="96.07" y="171.63" width="19.21" height="9.03" fill="#d9d3f6" stroke="rgba(255,255,255,.35)" stroke-width=".5"/><rect x="115.29" y="171.63" width="19.21" height="9.03" fill="#f0edfb" stroke="rgba(255,255,255,.35)" stroke-width=".5"/><rect x="0.00" y="180.67" width="19.21" height="9.03" fill="#f0edfb" stroke="rgba(255,255,255,.35)" stroke-width=".5"/><rect x="19.21" y="180.67" width="19.21" height="9.03" fill="#d3cbf4" stroke="rgba(255,255,255,.35)" stroke-width=".5"/><rect x="38.43" y="180.67" width="19.21" height="9.03" fill="#9b89e8" stroke="rgba(255,255,255,.35)" stroke-width=".5"/><rect x="57.64" y="180.67" width="19.21" height="9.03" fill="#ddd7f7" stroke="rgba(255,255,255,.35)" stroke-width=".5"/><rect x="76.86" y="180.67" width="19.21" height="9.03" fill="#d9d3f6" stroke="rgba(255,255,255,.35)" stroke-width=".5"/><rect x="96.07" y="180.67" width="19.21" height="9.03" fill="#e0daf7" stroke="rgba(255,255,255,.35)" stroke-width=".5"/><rect x="115.29" y="180.67" width="19.21" height="9.03" fill="#f0edfb" stroke="rgba(255,255,255,.35)" stroke-width=".5"/><rect x="0.00" y="189.70" width="19.21" height="9.03" fill="#f0edfb" stroke="rgba(255,255,255,.35)" stroke-width=".5"/><rect x="19.21" y="189.70" width="19.21" height="9.03" fill="#d5cef5" stroke="rgba(255,255,255,.35)" stroke-width=".5"/><rect x="38.43" y="189.70" width="19.21" height="9.03" fill="#917de5" stroke="rgba(255,255,255,.35)" stroke-width=".5"/><rect x="57.64" y="189.70" width="19.21" height="9.03" fill="#ddd7f7" stroke="rgba(255,255,255,.35)" stroke-width=".5"/><rect x="76.86" y="189.70" width="19.21" height="9.03" fill="#e3ddf8" stroke="rgba(255,255,255,.35)" stroke-width=".5"/><rect x="96.07" y="189.70" width="19.21" height="9.03" fill="#e6e2f9" stroke="rgba(255,255,255,.35)" stroke-width=".5"/><rect x="115.29" y="189.70" width="19.21" height="9.03" fill="#f4f2fc" stroke="rgba(255,255,255,.35)" stroke-width=".5"/><rect x="0.00" y="198.73" width="19.21" height="9.03" fill="#f0edfb" stroke="rgba(255,255,255,.35)" stroke-width=".5"/><rect x="19.21" y="198.73" width="19.21" height="9.03" fill="#d5cef5" stroke="rgba(255,255,255,.35)" stroke-width=".5"/><rect x="38.43" y="198.73" width="19.21" height="9.03" fill="#a594ea" stroke="rgba(255,255,255,.35)" stroke-width=".5"/><rect x="57.64" y="198.73" width="19.21" height="9.03" fill="#e6e2f9" stroke="rgba(255,255,255,.35)" stroke-width=".5"/><rect x="76.86" y="198.73" width="19.21" height="9.03" fill="#e6e2f9" stroke="rgba(255,255,255,.35)" stroke-width=".5"/><rect x="96.07" y="198.73" width="19.21" height="9.03" fill="#e6e2f9" stroke="rgba(255,255,255,.35)" stroke-width=".5"/><rect x="115.29" y="198.73" width="19.21" height="9.03" fill="#f5f3fc" stroke="rgba(255,255,255,.35)" stroke-width=".5"/><rect x="0.00" y="207.77" width="19.21" height="9.03" fill="#f2f0fc" stroke="rgba(255,255,255,.35)" stroke-width=".5"/><rect x="19.21" y="207.77" width="19.21" height="9.03" fill="#d9d3f6" stroke="rgba(255,255,255,.35)" stroke-width=".5"/><rect x="38.43" y="207.77" width="19.21" height="9.03" fill="#a594ea" stroke="rgba(255,255,255,.35)" stroke-width=".5"/><rect x="57.64" y="207.77" width="19.21" height="9.03" fill="#eae7fa" stroke="rgba(255,255,255,.35)" stroke-width=".5"/><rect x="76.86" y="207.77" width="19.21" height="9.03" fill="#edeafa" stroke="rgba(255,255,255,.35)" stroke-width=".5"/><rect x="96.07" y="207.77" width="19.21" height="9.03" fill="#e6e2f9" stroke="rgba(255,255,255,.35)" stroke-width=".5"/><rect x="115.29" y="207.77" width="19.21" height="9.03" fill="#f8f6fd" stroke="rgba(255,255,255,.35)" stroke-width=".5"/></svg>
<div class="t" style="left:619.6px;top:216.8px;font-size:7.2px;color:#1a1a1a;font-weight:400;transform:translate(-100%,-50%);transform-origin:right center;-webkit-text-stroke:0.15px #1a1a1a;">12pm</div>
<div class="t" style="left:619.6px;top:234.9px;font-size:7.2px;color:#1a1a1a;font-weight:400;transform:translate(-100%,-50%);transform-origin:right center;-webkit-text-stroke:0.15px #1a1a1a;">2am</div>
<div class="t" style="left:619.6px;top:252.9px;font-size:7.2px;color:#1a1a1a;font-weight:400;transform:translate(-100%,-50%);transform-origin:right center;-webkit-text-stroke:0.15px #1a1a1a;">4am</div>
<div class="t" style="left:619.6px;top:271.0px;font-size:7.2px;color:#1a1a1a;font-weight:400;transform:translate(-100%,-50%);transform-origin:right center;-webkit-text-stroke:0.15px #1a1a1a;">6am</div>
<div class="t" style="left:619.6px;top:289.1px;font-size:7.2px;color:#1a1a1a;font-weight:400;transform:translate(-100%,-50%);transform-origin:right center;-webkit-text-stroke:0.15px #1a1a1a;">8am</div>
<div class="t" style="left:619.6px;top:307.1px;font-size:7.2px;color:#1a1a1a;font-weight:400;transform:translate(-100%,-50%);transform-origin:right center;-webkit-text-stroke:0.15px #1a1a1a;">10am</div>
<div class="t" style="left:619.6px;top:325.2px;font-size:7.2px;color:#1a1a1a;font-weight:400;transform:translate(-100%,-50%);transform-origin:right center;-webkit-text-stroke:0.15px #1a1a1a;">12am</div>
<div class="t" style="left:619.6px;top:343.3px;font-size:7.2px;color:#1a1a1a;font-weight:400;transform:translate(-100%,-50%);transform-origin:right center;-webkit-text-stroke:0.15px #1a1a1a;">2pm</div>
<div class="t" style="left:619.6px;top:361.4px;font-size:7.2px;color:#1a1a1a;font-weight:400;transform:translate(-100%,-50%);transform-origin:right center;-webkit-text-stroke:0.15px #1a1a1a;">4pm</div>
<div class="t" style="left:619.6px;top:379.4px;font-size:7.2px;color:#1a1a1a;font-weight:400;transform:translate(-100%,-50%);transform-origin:right center;-webkit-text-stroke:0.15px #1a1a1a;">6pm</div>
<div class="t" style="left:619.6px;top:397.5px;font-size:7.2px;color:#1a1a1a;font-weight:400;transform:translate(-100%,-50%);transform-origin:right center;-webkit-text-stroke:0.15px #1a1a1a;">8pm</div>
<div class="t" style="left:619.6px;top:415.6px;font-size:7.2px;color:#1a1a1a;font-weight:400;transform:translate(-100%,-50%);transform-origin:right center;-webkit-text-stroke:0.15px #1a1a1a;">10pm</div>
<div class="t" style="left:634.6px;top:440.4px;font-size:7.7px;color:#1a1a1a;font-weight:400;transform:translate(-50%,-50%);transform-origin:center center;-webkit-text-stroke:0.25px #1a1a1a;">Sun</div>
<div class="t" style="left:672.8px;top:440.4px;font-size:7.7px;color:#1a1a1a;font-weight:400;transform:translate(-50%,-50%);transform-origin:center center;-webkit-text-stroke:0.25px #1a1a1a;">Tue</div>
<div class="t" style="left:711.4px;top:440.4px;font-size:7.7px;color:#1a1a1a;font-weight:400;transform:translate(-50%,-50%);transform-origin:center center;-webkit-text-stroke:0.25px #1a1a1a;">Thu</div>
<div class="t" style="left:749.5px;top:440.4px;font-size:7.7px;color:#1a1a1a;font-weight:400;transform:translate(-50%,-50%);transform-origin:center center;-webkit-text-stroke:0.25px #1a1a1a;">Sat</div>
<div class="b" style="left:628.2px;top:450.0px;width:131.8px;height:10.8px;background:linear-gradient(90deg,#fbfaff 0%,#d9d1f6 35%,#a896ea 70%,#7056de 100%);"></div>
<div class="t" style="left:650.0px;top:465.6px;font-size:4.6px;color:#333;font-weight:400;transform:translate(-50%,-50%);transform-origin:center center;">4,000</div>
<div class="t" style="left:676.0px;top:465.6px;font-size:4.6px;color:#333;font-weight:400;transform:translate(-50%,-50%);transform-origin:center center;">6,000</div>
<div class="t" style="left:701.7px;top:465.6px;font-size:4.6px;color:#333;font-weight:400;transform:translate(-50%,-50%);transform-origin:center center;">8,000</div>
<div class="t" style="left:727.4px;top:465.6px;font-size:4.6px;color:#333;font-weight:400;transform:translate(-50%,-50%);transform-origin:center center;">10,000</div>
<div class="t" style="left:760.0px;top:465.6px;font-size:4.6px;color:#333;font-weight:400;transform:translate(-100%,-50%);transform-origin:right center;">12,000</div>
<svg class="b" style="left:597.0px;top:457.5px;" width="32" height="10" viewBox="0 0 32 10"><path d="M0 8 H8 Q11 0 14.500 2.500 L19 7.500 L22.500 3.500 L26 7 L31 8.500" fill="none" stroke="rgba(60,60,60,.6)" stroke-width=".7"/><path d="M4 8.500 H30" stroke="rgba(60,60,60,.3)" stroke-width=".5"/></svg>
</div>
</body></html>
